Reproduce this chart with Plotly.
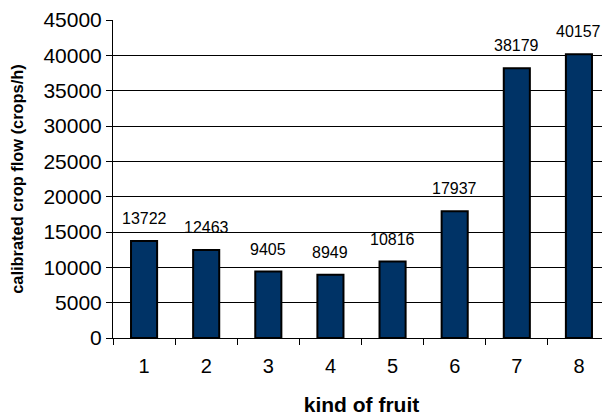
import plotly.graph_objects as go

categories = ["1", "2", "3", "4", "5", "6", "7", "8"]
values = [13722, 12463, 9405, 8949, 10816, 17937, 38179, 40157]
y_ticks = [0, 5000, 10000, 15000, 20000, 25000, 30000, 35000, 40000, 45000]

FONT = "Liberation Sans, Arial, sans-serif"

fig = go.Figure()
fig.add_trace(go.Bar(
    x=categories, y=values,
    marker=dict(color="#003366", line=dict(color="#000000", width=2)),
    width=0.42,
))

for i, v in enumerate(values):
    fig.add_annotation(x=i, y=v, xref="x", yref="y", text=str(v), showarrow=False,
                       yanchor="bottom", yshift=12,
                       font=dict(family=FONT, size=16, color="#000000"))

fig.update_layout(
    width=602, height=411,
    margin=dict(l=105, r=0, t=12, b=81),
    paper_bgcolor="white", plot_bgcolor="white",
    showlegend=False,
    font=dict(family=FONT, color="#000000"),
    xaxis=dict(
        type="category", tickson="boundaries", ticks="outside", ticklen=6,
        tickcolor="#000000", showline=True, linecolor="#000000", linewidth=1,
        showgrid=False, tickfont=dict(size=20), automargin=False,
        ticklabelstandoff=10,
        title=dict(text="<b>kind of fruit</b>", font=dict(size=21), standoff=21),
    ),
    yaxis=dict(
        range=[0, 45000], tickvals=y_ticks, tickformat="d", ticks="outside", ticklen=6,
        tickcolor="#000000", showline=True, linecolor="#000000", linewidth=1,
        showgrid=True, gridcolor="#000000", gridwidth=1, zeroline=False,
        tickfont=dict(size=21), automargin=False,
        title=dict(text="<b>calibrated crop flow (crops/h)</b>", font=dict(size=16.4), standoff=23),
    ),
)

fig.write_html("out.html")
